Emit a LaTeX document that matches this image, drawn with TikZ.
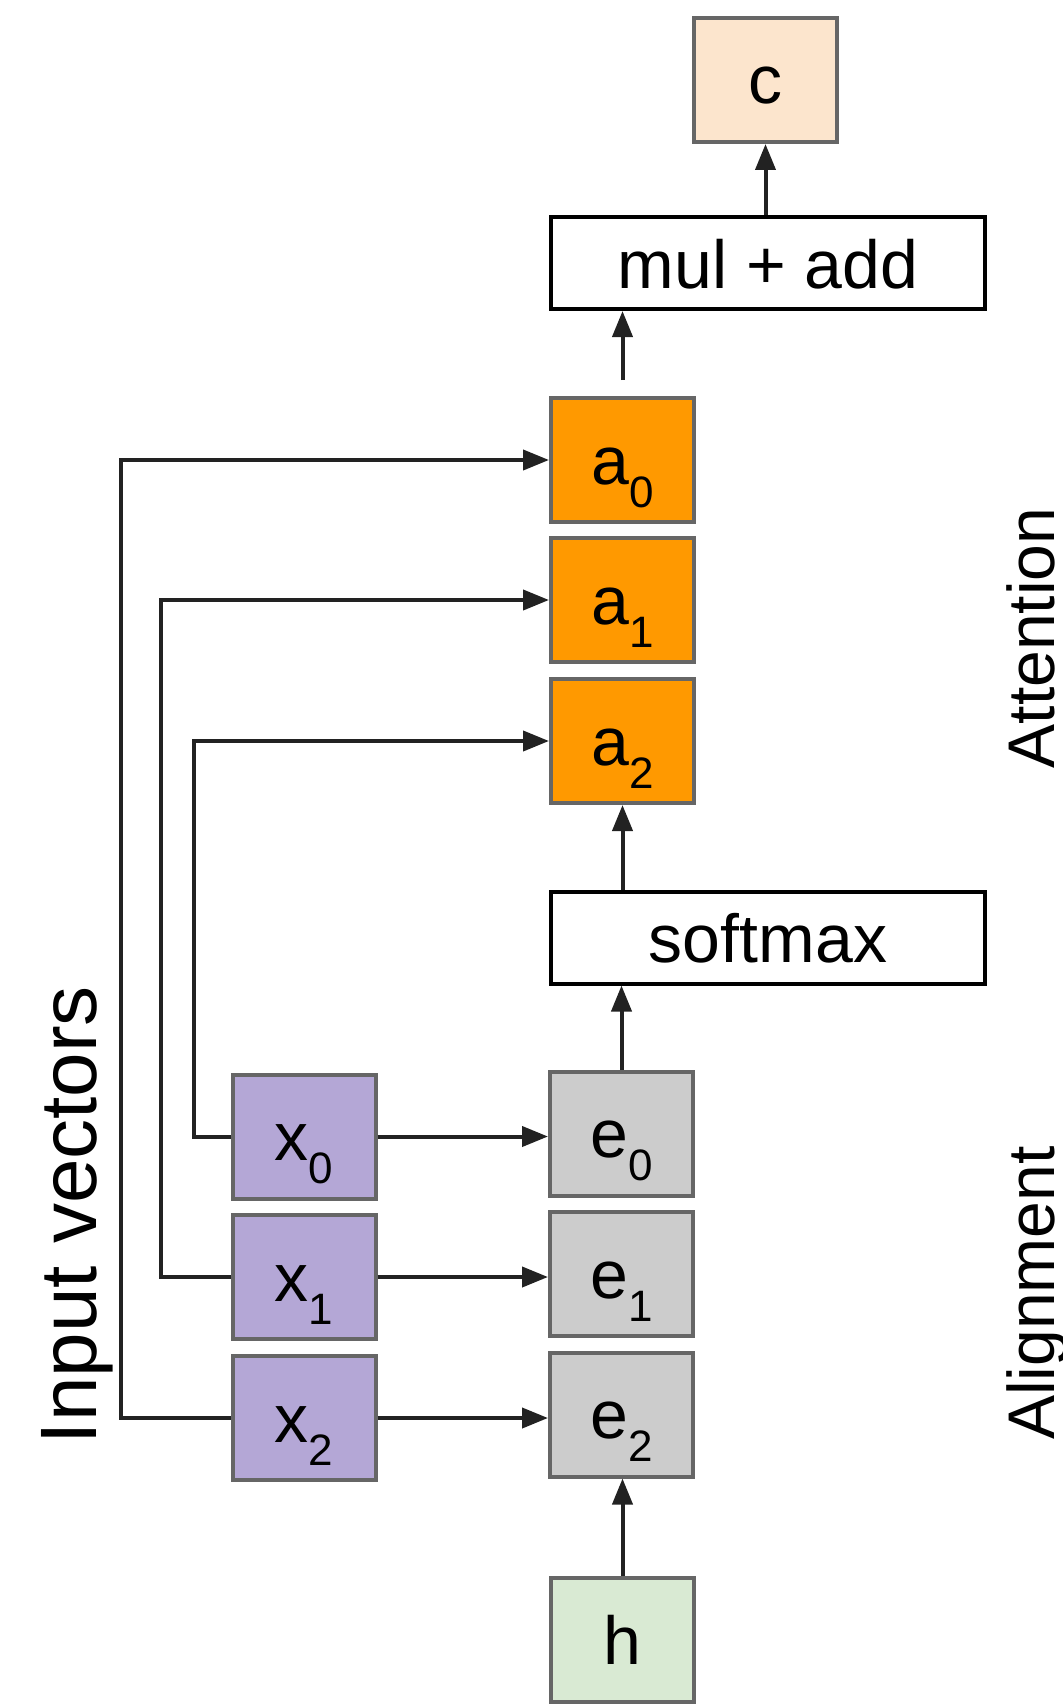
\documentclass[tikz,border=0pt]{standalone}
\usepackage{fontspec}
\setmainfont{Liberation Sans}
\usetikzlibrary{arrows.meta}
\definecolor{orng}{HTML}{FF9900}
\definecolor{purp}{HTML}{B4A7D6}
\definecolor{gryfill}{HTML}{CCCCCC}
\definecolor{grnfill}{HTML}{D9EAD3}
\definecolor{peach}{HTML}{FCE5CD}
\definecolor{bordergray}{HTML}{666666}
\definecolor{linecol}{HTML}{222222}
\newcommand\mysub[2]{#1\raisebox{-23pt}{\fontsize{44}{44}\selectfont #2}}
\begin{document}
\begin{tikzpicture}[x=1pt,y=-1pt,
  cell/.style={draw=bordergray, line width=4pt, minimum width=143pt, minimum height=124pt,
    inner sep=0pt, text height=58pt, text depth=10pt, font=\fontsize{68}{80}\selectfont},
  opbox/.style={draw=black, line width=4pt, minimum width=434pt, minimum height=92pt,
    inner sep=0pt, text height=58pt, text depth=8pt, font=\fontsize{68}{80}\selectfont},
  arr/.style={draw=linecol, line width=4pt, -{Triangle[length=26pt,width=20pt]}},
  side/.style={font=\fontsize{66}{78}\selectfont, rotate=90, anchor=base, inner sep=0pt}
]
\useasboundingbox (0,0) rectangle (1062,1704);

\node[cell, fill=peach] (c) at (765.5,80) {c};
\node[opbox] (mul) at (768,263) {mul + add};
\node[cell, fill=orng] (a0) at (622.5,460) {\mysub{a}{0}};
\node[cell, fill=orng] (a1) at (622.5,600) {\mysub{a}{1}};
\node[cell, fill=orng] (a2) at (622.5,741) {\mysub{a}{2}};
\node[opbox] (soft) at (768,937.5) {softmax};
\node[cell, fill=gryfill] (e0) at (621.5,1133.5) {\mysub{e}{0}};
\node[cell, fill=gryfill] (e1) at (621.5,1274) {\mysub{e}{1}};
\node[cell, fill=gryfill] (e2) at (621.5,1414.5) {\mysub{e}{2}};
\node[cell, fill=purp] (x0) at (304,1136.5) {\mysub{x}{0}};
\node[cell, fill=purp] (x1) at (304,1277) {\mysub{x}{1}};
\node[cell, fill=purp] (x2) at (304,1418) {\mysub{x}{2}};
\node[cell, fill=grnfill] (h) at (622.5,1640) {h};

\node[side, font=\fontsize{80}{90}\selectfont] (inlab) at (96,1215) {Input vectors};
\node[side] (attlab) at (1054,638) {Attention};
\node[side] (alilab) at (1054,1293) {Alignment};

% vertical flow
\draw[arr] (h.north) -- (h.north |- e2.south);
\draw[arr] (e0.north) -- (e0.north |- soft.south);
\draw[arr] (a2.south |- soft.north) -- (a2.south);
\draw[arr, shorten <=16pt] (a0.north) -- (a0.north |- mul.south);
\draw[arr] (c.south |- mul.north) -- (c.south);

% x -> e
\draw[arr] (x0.east) -- (x0.east -| e0.west);
\draw[arr] (x1.east) -- (x1.east -| e1.west);
\draw[arr] (x2.east) -- (x2.east -| e2.west);

% x -> a
\draw[arr] (x0.west) -- ++(-37,0) |- (a2.west);
\draw[arr] (x1.west) -- ++(-70,0) |- (a1.west);
\draw[arr] (x2.west) -- ++(-110,0) |- (a0.west);
\end{tikzpicture}
\end{document}
